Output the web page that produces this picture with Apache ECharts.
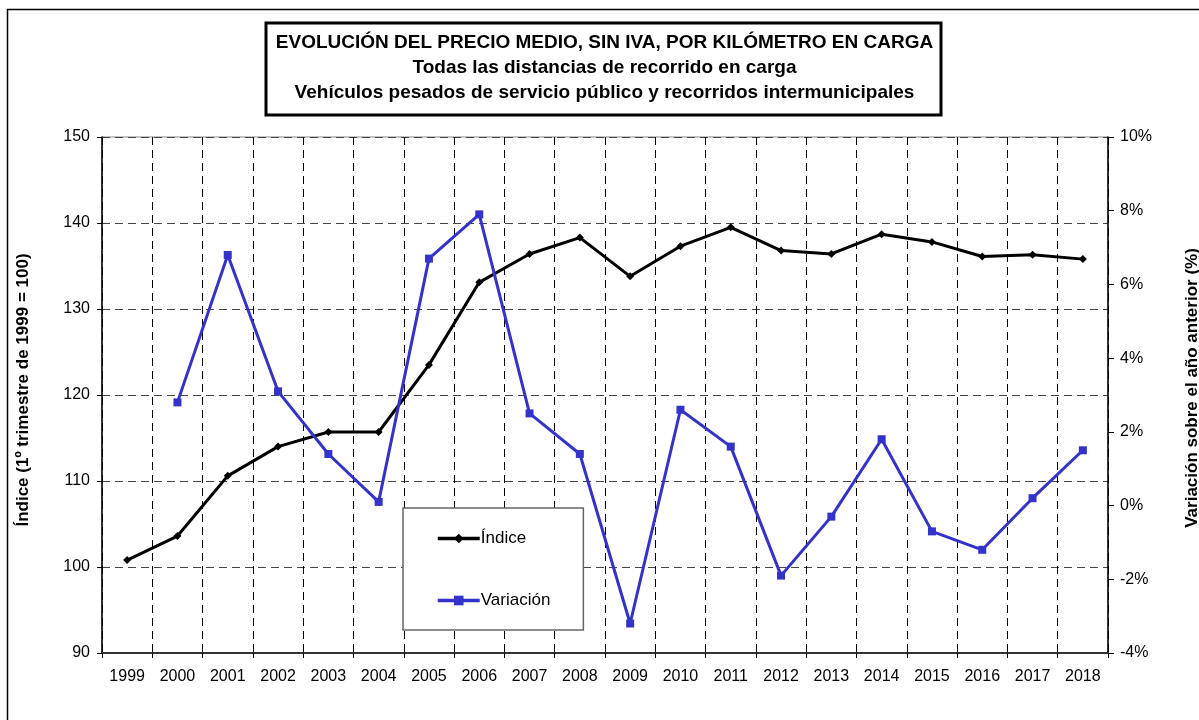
<!DOCTYPE html>
<html>
<head>
<meta charset="utf-8">
<script src="https://cdn.jsdelivr.net/npm/echarts@6/dist/echarts.min.js"></script>
<style>
	html, body { margin: 0; padding: 0; background: #fff; }
	#chart { width: 1199px; height: 720px; }
</style>
</head>
<body>
<div id="chart"></div>
<script>
// datos
var anios = ['1999','2000','2001','2002','2003','2004','2005','2006','2007','2008','2009','2010','2011','2012','2013','2014','2015','2016','2017','2018'];
var indice = [100.8, 103.6, 110.6, 114.0, 115.7, 115.7, 123.5, 133.1, 136.4, 138.3, 133.8, 137.3, 139.5, 136.8, 136.4, 138.7, 137.8, 136.1, 136.3, 135.8];
var variacion = [null, 2.8, 6.8, 3.1, 1.4, 0.1, 6.7, 7.9, 2.5, 1.4, -3.2, 2.6, 1.6, -1.9, -0.3, 1.8, -0.7, -1.2, 0.2, 1.5];
var titulo = [
	'EVOLUCIÓN DEL PRECIO MEDIO, SIN IVA, POR KILÓMETRO EN CARGA',
	'Todas las distancias de recorrido en carga',
	'Vehículos pesados de servicio público y recorridos intermunicipales'
];
var tituloIzq = 'Índice (1º trimestre de 1999 = 100)';
var tituloDer = 'Variación sobre el año anterior (%)';

var fuente = '"Liberation Sans", Arial, sans-serif';

var myChart = echarts.init(document.getElementById('chart'));

var textosTitulo = titulo.map(function(t, i){
	return {
		type: 'text',
		x: 604.5,
		y: 43 + i * 25,
		style: {
			text: t,
			font: 'bold 19px ' + fuente,
			fill: '#000',
			textAlign: 'center',
			textVerticalAlign: 'middle'
		}
	};
});

myChart.setOption({
	backgroundColor: '#fff',
	animation: false,
	textStyle: { fontFamily: fuente },
	grid: {
		left: 102, right: 91, top: 137, bottom: 67,
		show: true, borderColor: '#888', borderWidth: 1,
		backgroundColor: 'transparent'
	},
	legend: {
		orient: 'vertical',
		left: 403,
		top: 508,
		padding: [22, 33, 21, 33],
		itemGap: 45,
		itemWidth: 42,
		itemHeight: 12,
		backgroundColor: '#fff',
		borderColor: '#666',
		borderWidth: 1.5,
		lineStyle: { width: 3.5 },
		textStyle: { fontSize: 17, color: '#000', padding: [0, 0, 0, -4] },
		data: ['Índice', 'Variación']
	},
	xAxis: {
		type: 'category',
		data: anios,
		boundaryGap: true,
		axisLine: { onZero: false, lineStyle: { color: '#333', width: 2 } },
		axisTick: { show: true, length: 5, lineStyle: { color: '#000' } },
		axisLabel: { fontSize: 16, color: '#000', margin: 16, interval: 0 },
		splitLine: { show: true, interval: 0, lineStyle: { color: '#000', type: [8, 5], width: 1 } }
	},
	yAxis: [
		{
			type: 'value',
			min: 90, max: 150, interval: 10,
			axisLine: { show: true, lineStyle: { color: '#000', width: 1.5 } },
			axisTick: { show: true, length: 5, lineStyle: { color: '#000' } },
			axisLabel: { fontSize: 16, color: '#000', margin: 12 },
			splitLine: { show: true, lineStyle: { color: '#444', type: [8, 5], width: 1 } }
		},
		{
			type: 'value',
			min: -4, max: 10, interval: 2,
			position: 'right',
			axisLine: { show: true, lineStyle: { color: '#000', width: 1.5 } },
			axisTick: { show: true, length: 6, lineStyle: { color: '#000' } },
			axisLabel: { fontSize: 16, color: '#000', margin: 12, formatter: '{value}%' },
			splitLine: { show: false }
		}
	],
	series: [
		{
			name: 'Índice',
			type: 'line',
			yAxisIndex: 0,
			data: indice,
			symbol: 'diamond',
			symbolSize: 8,
			lineStyle: { color: '#000', width: 3 },
			itemStyle: { color: '#000' },
			z: 3
		},
		{
			name: 'Variación',
			type: 'line',
			yAxisIndex: 1,
			data: variacion,
			symbol: 'rect',
			symbolSize: 8,
			connectNulls: false,
			lineStyle: { color: '#3333CC', width: 3 },
			itemStyle: { color: '#3333CC' },
			z: 4
		}
	],
	graphic: [
		{
			type: 'rect',
			shape: { x: 7.5, y: 9.5, width: 1200, height: 720 },
			style: { fill: 'none', stroke: '#000', lineWidth: 1.5 },
			silent: true
		},
		{
			type: 'rect',
			shape: { x: 266, y: 23, width: 675, height: 92 },
			style: { fill: '#fff', stroke: '#000', lineWidth: 3 },
			silent: true
		},
		{
			type: 'group',
			children: textosTitulo
		},
		{
			type: 'text',
			x: 23, y: 390,
			rotation: Math.PI / 2,
			style: {
				text: tituloIzq,
				font: 'bold 17px ' + fuente,
				fill: '#000',
				textAlign: 'center',
				textVerticalAlign: 'middle'
			}
		},
		{
			type: 'text',
			x: 1192, y: 388,
			rotation: Math.PI / 2,
			style: {
				text: tituloDer,
				font: 'bold 17px ' + fuente,
				fill: '#000',
				textAlign: 'center',
				textVerticalAlign: 'middle'
			}
		}
	]
});
</script>
</body>
</html>
